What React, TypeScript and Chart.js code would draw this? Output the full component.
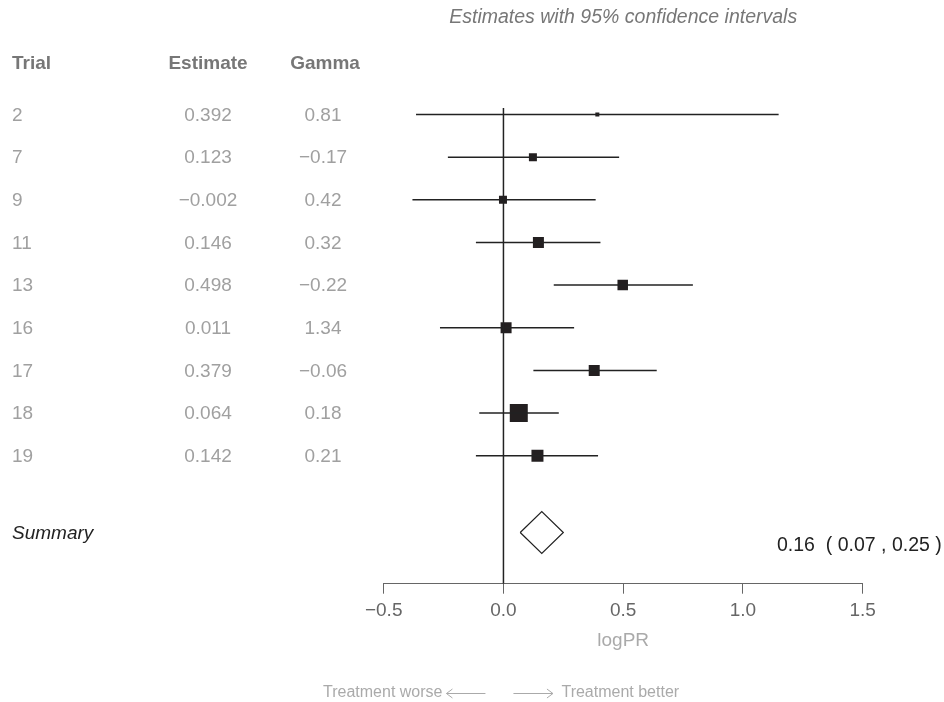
import { useEffect, useRef } from "react";
import { Chart, registerables } from "chart.js";

Chart.register(...registerables);

// ---- data ----
const trials = ["2", "7", "9", "11", "13", "16", "17", "18", "19"];
const estimates = [0.392, 0.123, -0.002, 0.146, 0.498, 0.011, 0.379, 0.064, 0.142];
const gammas = [0.81, -0.17, 0.42, 0.32, -0.22, 1.34, -0.06, 0.18, 0.21];
const ciLower = [-0.365, -0.232, -0.38, -0.115, 0.21, -0.265, 0.125, -0.101, -0.115];
const ciUpper = [1.149, 0.483, 0.385, 0.405, 0.791, 0.295, 0.64, 0.231, 0.395];
const weights = [4, 8, 8, 11, 10.5, 11, 11, 18, 12];
const summaryEstimate = 0.16;
const summaryLower = 0.07;
const summaryUpper = 0.25;
const xTicks = [-0.5, 0, 0.5, 1, 1.5];
const xTickLabels = ["−0.5", "0.0", "0.5", "1.0", "1.5"];

const FONT = '"Liberation Sans", Arial, Helvetica, sans-serif';
const SUMMARY_ROW = 9.8;
const DIAMOND_HALF = 0.49;

const fmt = (v: number, d: number) => v.toFixed(d).replace("-", "−");

function arrow(ctx: CanvasRenderingContext2D, from: number, to: number, y: number) {
  const dir = Math.sign(to - from);
  ctx.beginPath();
  ctx.moveTo(from, y);
  ctx.lineTo(to, y);
  ctx.moveTo(to - dir * 6, y - 4.5);
  ctx.lineTo(to, y);
  ctx.lineTo(to - dir * 6, y + 4.5);
  ctx.stroke();
}

const textPlugin = {
  id: "forestText",
  afterDraw(chart: any) {
    const { ctx } = chart;
    const x = chart.scales.x;
    const y = chart.scales.y;
    ctx.save();
    ctx.textBaseline = "middle";

    // title
    ctx.font = `italic 19.5px ${FONT}`;
    ctx.fillStyle = "#777";
    ctx.textAlign = "center";
    ctx.fillText("Estimates with 95% confidence intervals", x.getPixelForValue(0.5), 18);

    // headers
    ctx.font = `bold 19px ${FONT}`;
    ctx.fillStyle = "#777";
    ctx.textAlign = "left";
    ctx.fillText("Trial", 12, 64);
    ctx.textAlign = "center";
    ctx.fillText("Estimate", 208, 64);
    ctx.fillText("Gamma", 325, 64);

    // rows
    ctx.font = `19px ${FONT}`;
    ctx.fillStyle = "#a0a0a0";
    trials.forEach((t, i) => {
      const py = y.getPixelForValue(i) + 1;
      ctx.textAlign = "left";
      ctx.fillText(t, 12, py);
      ctx.textAlign = "center";
      ctx.fillText(fmt(estimates[i], 3), 208, py);
      ctx.fillText(fmt(gammas[i], 2), 323, py);
    });

    // summary
    ctx.font = `italic 19px ${FONT}`;
    ctx.fillStyle = "#222";
    ctx.textAlign = "left";
    ctx.fillText("Summary", 12, y.getPixelForValue(SUMMARY_ROW) + 1);

    ctx.font = `19.5px ${FONT}`;
    ctx.fillText(
      `${fmt(summaryEstimate, 2)}  ( ${fmt(summaryLower, 2)} , ${fmt(summaryUpper, 2)} )`,
      777,
      546
    );

    // axis title
    ctx.font = `19px ${FONT}`;
    ctx.fillStyle = "#aaa";
    ctx.textAlign = "center";
    ctx.fillText("logPR", x.getPixelForValue(0.5), 641);

    // footer
    ctx.font = `16px ${FONT}`;
    ctx.fillStyle = "#aaa";
    const x0 = x.getPixelForValue(0);
    ctx.textAlign = "right";
    ctx.fillText("Treatment worse", x0 - 61, 693);
    ctx.textAlign = "left";
    ctx.fillText("Treatment better", x0 + 58, 693);
    ctx.strokeStyle = "#aaa";
    ctx.lineWidth = 1;
    arrow(ctx, x0 - 18, x0 - 57, 693.5);
    arrow(ctx, x0 + 10, x0 + 49.5, 693.5);

    ctx.restore();
  },
};

export default function App() {
  const ref = useRef<HTMLCanvasElement>(null);

  useEffect(() => {
    if (!ref.current) return;
    const ciSets = trials.map((_, i) => ({
      type: "line" as const,
      data: [
        { x: ciLower[i], y: i },
        { x: ciUpper[i], y: i },
      ],
      borderColor: "#222",
      borderWidth: 1.5,
      pointRadius: 0,
      fill: false,
    }));
    const chart = new Chart(ref.current, {
      type: "scatter",
      data: {
        datasets: [
          {
            type: "line",
            data: [
              { x: 0, y: -0.15 },
              { x: 0, y: 11 },
            ],
            borderColor: "#222",
            borderWidth: 1.5,
            pointRadius: 0,
            fill: false,
          } as any,
          ...ciSets,
          {
            type: "scatter",
            data: estimates.map((e, i) => ({ x: e, y: i })),
            pointStyle: "rect",
            pointRadius: weights.map((w) => w / Math.SQRT2),
            backgroundColor: "#231f20",
            borderWidth: 0,
          } as any,
          {
            type: "line",
            data: [
              { x: summaryLower, y: SUMMARY_ROW },
              { x: summaryEstimate, y: SUMMARY_ROW - DIAMOND_HALF },
              { x: summaryUpper, y: SUMMARY_ROW },
              { x: summaryEstimate, y: SUMMARY_ROW + DIAMOND_HALF },
              { x: summaryLower, y: SUMMARY_ROW },
            ],
            borderColor: "#222",
            borderWidth: 1.2,
            pointRadius: 0,
            fill: false,
            tension: 0,
          } as any,
        ],
      },
      options: {
        responsive: false,
        animation: false,
        events: [],
        layout: { padding: { left: 383.7, right: 81.3, top: 108.1, bottom: 78.3 } },
        plugins: { legend: { display: false }, tooltip: { enabled: false } },
        scales: {
          x: {
            type: "linear",
            position: "bottom",
            min: -0.5,
            max: 1.5,
            afterBuildTicks: (s: any) => {
              s.ticks = xTicks.map((v) => ({ value: v }));
            },
            afterFit: (s: any) => {
              s.height = 40;
              s.paddingLeft = 0;
              s.paddingRight = 0;
            },
            grid: {
              display: true,
              drawOnChartArea: false,
              drawTicks: true,
              tickLength: 10,
              color: "#666",
              lineWidth: 1,
            },
            border: { display: true, color: "#666", width: 1 },
            ticks: {
              autoSkip: false,
              maxRotation: 0,
              padding: 6,
              color: "#666",
              font: { size: 19, family: FONT },
              callback: (_v: any, idx: number) => xTickLabels[idx],
            },
          },
          y: { type: "linear", reverse: true, min: -0.15, max: 11, display: false },
        },
      } as any,
      plugins: [textPlugin],
    });
    return () => chart.destroy();
  }, []);

  return (
    <div style={{ position: "absolute", left: 0, top: 0, width: 944, height: 702, background: "#fff" }}>
      <canvas ref={ref} width={944} height={702} style={{ display: "block" }} />
    </div>
  );
}
